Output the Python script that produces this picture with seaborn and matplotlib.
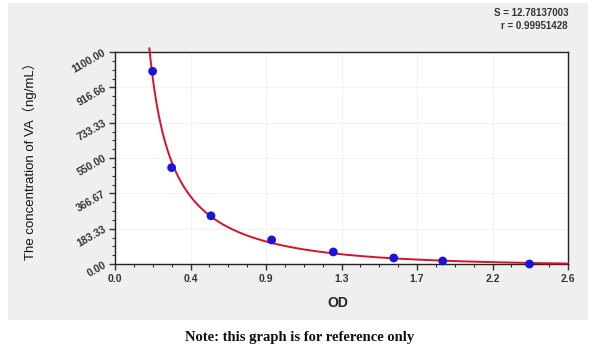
import numpy as np
import pandas as pd
import matplotlib
matplotlib.use("Agg")
import matplotlib.pyplot as plt
from matplotlib.patches import Rectangle
from matplotlib.ticker import AutoMinorLocator
import seaborn as sns

# ---- data ----
od_points = [0.216, 0.325, 0.551, 0.899, 1.253, 1.600, 1.881, 2.379]
conc_points = [1000, 500, 250, 125, 62.5, 31.25, 15.625, 0]

# points
curve_od = [0.197, 0.216, 0.235, 0.270, 0.300, 0.325, 0.373, 0.430, 0.480,
            0.551, 0.630, 0.717, 0.800, 0.899, 1.062, 1.150, 1.253, 1.521,
            1.600, 1.881, 2.100, 2.382, 2.600]
curve_conc = [1162, 998, 860, 690, 590, 493, 410, 337, 290,
              245, 208, 176, 150, 121, 80, 66, 55, 33,
              27, 14, 9, 6, 4]

x_tick_labels = ["0.0", "0.4", "0.9", "1.3", "1.7", "2.2", "2.6"]
y_tick_labels = ["0.00", "183.33", "366.67", "550.00", "733.33", "916.66", "1100.00"]
x_max = 2.6
y_max = 1100.0

stat_s = "S = 12.78137003"
stat_r = "r = 0.99951428"
x_label = "OD"
y_label = "The concentration of VA（ng/mL）"
note = "Note: this graph is for reference only"

# smooth the read curve (least-squares fit in log-log space)
lx = np.log(np.array(curve_od))
ly = np.log(np.array(curve_conc) + 8.0)
coef = np.polyfit(lx, ly, 3)
od_dense = np.linspace(curve_od[0], curve_od[-1], 300)
conc_dense = np.exp(np.polyval(coef, np.log(od_dense))) - 8.0

# ---- figure ----
sns.set_theme(style="white")
plt.rcParams['font.family'] = ['Liberation Sans', 'Noto Sans CJK SC', 'DejaVu Sans']

W, H = 600, 351
fig = plt.figure(figsize=(W / 100, H / 100), dpi=100)
fig.patch.set_facecolor("white")
fig.add_artist(Rectangle((8 / W, (H - 320) / H), 580 / W, 317 / H,
                         transform=fig.transFigure, facecolor="#efefef",
                         edgecolor="none", zorder=0))

ax = fig.add_axes([115 / W, (H - 264) / H, (568 - 115) / W, (264 - 52) / H])
ax.set_facecolor("white")

pts = pd.DataFrame({"od": od_points, "conc": conc_points})
crv = pd.DataFrame({"od": od_dense, "conc": conc_dense})

sns.lineplot(data=crv, x="od", y="conc", sort=False, estimator=None,
             color="#d5122e", linewidth=1.4, ax=ax, clip_on=False, zorder=3)
sns.scatterplot(data=pts, x="od", y="conc", color="#1a14d8", s=40,
                edgecolor="none", ax=ax, zorder=4, clip_on=False)

ax.set_xlim(0, x_max)
ax.set_ylim(0, y_max)
xt = np.linspace(0, x_max, len(x_tick_labels))
yt = np.linspace(0, y_max, len(y_tick_labels))
ax.set_xticks(xt)
ax.set_xticklabels(x_tick_labels, fontsize=7.5, fontweight="bold", color="#333333")
ax.set_yticks(yt)
ax.set_yticklabels(y_tick_labels, fontsize=7.5, fontweight="bold", color="#333333",
                   rotation=30, ha="right", va="center", rotation_mode="anchor")
ax.xaxis.set_minor_locator(AutoMinorLocator(4))
ax.yaxis.set_minor_locator(AutoMinorLocator(4))
ax.tick_params(axis="both", which="major", direction="out", length=4, width=1,
               color="#333333", pad=3, bottom=True, left=True)
ax.tick_params(axis="both", which="minor", direction="out", length=2.5, width=0.8,
               color="#333333", bottom=True, left=True)
ax.grid(True, which="major", color="#f3f3f3", linewidth=0.8)
for sp in ax.spines.values():
    sp.set_color("#222222")
    sp.set_linewidth(1.0)
    sp.set_visible(True)

ax.set_xlabel("")
ax.set_ylabel("")
fig.text(338 / W, 1 - 303 / H, x_label, ha="center", va="center",
         fontsize=10, fontweight="bold", color="#222222")
fig.text(30 / W, 1 - 158 / H, y_label, ha="center", va="center", rotation=90,
         fontsize=9.5, color="#111111")
fig.text(568 / W, 1 - 13 / H, stat_s, ha="right", va="center",
         fontsize=7, fontweight="bold", color="#333333")
fig.text(568 / W, 1 - 26 / H, stat_r, ha="right", va="center",
         fontsize=7, fontweight="bold", color="#333333")
fig.text(300 / W, 1 - 338 / H, note, ha="center", va="center",
         fontsize=10.5, fontweight="bold", color="#111111",
         family=["Liberation Serif", "DejaVu Serif"])

fig.savefig("out.png", dpi=100, facecolor=fig.get_facecolor())
